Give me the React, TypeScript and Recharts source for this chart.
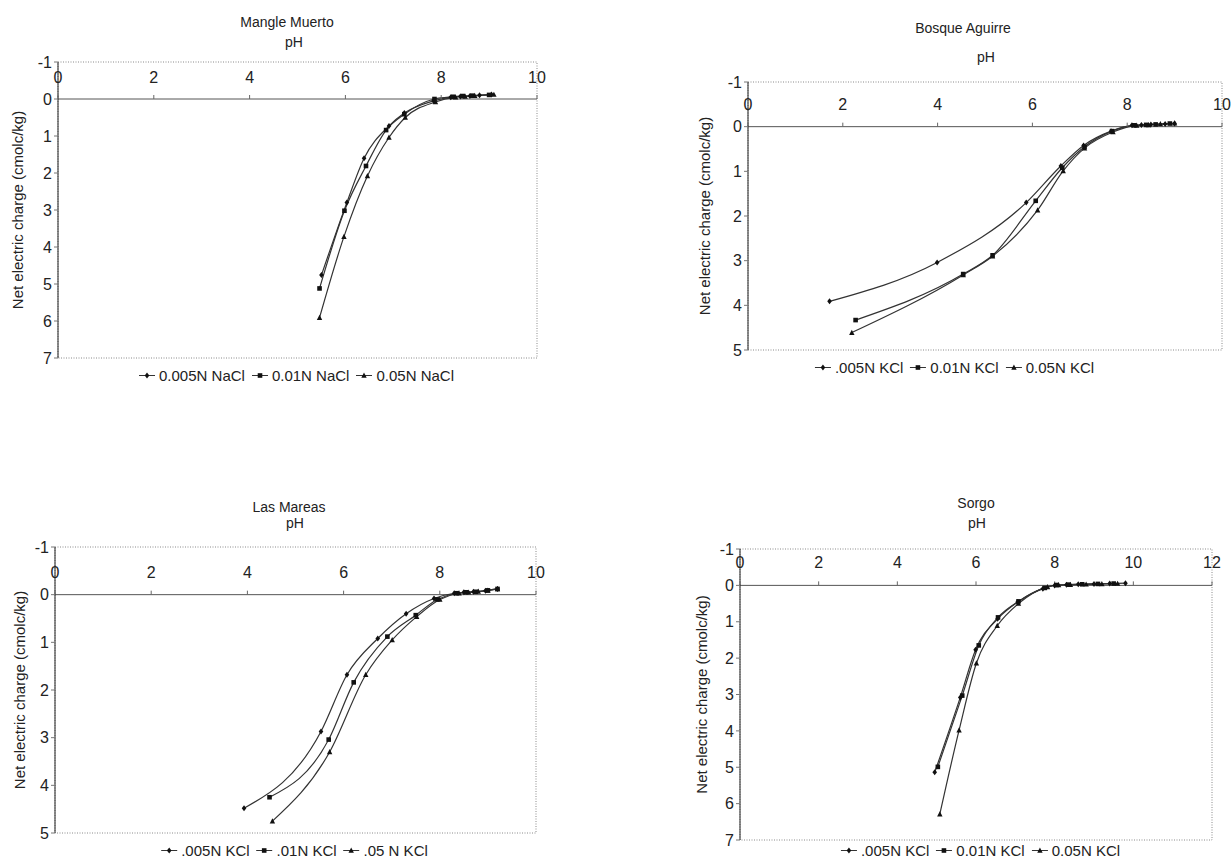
import React from "react";
import {
  LineChart,
  Line,
  XAxis,
  YAxis,
  ReferenceLine,
  ReferenceDot,
  ReferenceArea,
} from "recharts";

// [pH, net charge] pairs
const mangle005 = [[5.5, 4.76], [6.03, 2.8], [6.39, 1.6], [6.91, 0.73], [7.23, 0.38], [7.84, 0.05], [8.2, -0.05], [8.4, -0.07], [8.6, -0.08], [8.8, -0.1], [9.05, -0.12]];
const mangle01 = [[5.46, 5.12], [5.98, 3.02], [6.43, 1.81], [6.85, 0.84], [7.23, 0.41], [7.86, 0.0], [8.25, -0.06], [8.45, -0.08], [8.65, -0.09], [9.0, -0.11]];
const mangle05 = [[5.46, 5.91], [5.97, 3.72], [6.46, 2.08], [6.91, 1.04], [7.25, 0.5], [7.88, 0.08], [8.3, -0.05], [8.5, -0.07], [8.7, -0.09], [9.1, -0.12]];

const bosque005 = [[1.72, 3.91], [3.99, 3.04], [5.87, 1.7], [6.6, 0.88], [7.08, 0.42], [7.66, 0.1], [8.1, -0.03], [8.3, -0.04], [8.5, -0.05], [8.8, -0.06], [9.0, -0.07]];
const bosque01 = [[2.27, 4.33], [4.54, 3.3], [5.16, 2.88], [6.07, 1.66], [6.63, 0.92], [7.1, 0.45], [7.68, 0.1], [8.15, -0.03], [8.4, -0.04], [8.6, -0.05], [8.9, -0.07]];
const bosque05 = [[2.19, 4.61], [4.54, 3.32], [5.16, 2.9], [6.11, 1.87], [6.65, 0.99], [7.1, 0.48], [7.7, 0.12], [8.2, -0.03], [8.45, -0.04], [8.7, -0.06], [9.0, -0.08]];

const mareas005 = [[3.93, 4.48], [5.53, 2.87], [6.07, 1.68], [6.71, 0.92], [7.3, 0.4], [7.88, 0.08], [8.3, -0.03], [8.5, -0.05], [8.7, -0.06], [8.95, -0.08], [9.2, -0.12]];
const mareas01 = [[4.46, 4.25], [5.69, 3.04], [6.21, 1.84], [6.91, 0.88], [7.5, 0.43], [7.95, 0.1], [8.35, -0.03], [8.55, -0.05], [8.75, -0.06], [9.0, -0.09], [9.2, -0.12]];
const mareas05 = [[4.52, 4.75], [5.71, 3.3], [6.46, 1.68], [7.01, 0.95], [7.52, 0.46], [8.0, 0.1], [8.4, -0.03], [8.6, -0.05], [8.8, -0.07], [9.0, -0.09], [9.2, -0.12]];

const sorgo005 = [[4.95, 5.14], [5.6, 3.08], [5.99, 1.77], [6.55, 0.92], [7.06, 0.46], [7.7, 0.09], [8.0, 0.0], [8.3, -0.02], [8.6, -0.03], [9.0, -0.04], [9.4, -0.05], [9.8, -0.06]];
const sorgo01 = [[5.03, 4.99], [5.65, 3.03], [6.07, 1.65], [6.56, 0.88], [7.08, 0.44], [7.75, 0.07], [8.05, -0.01], [8.35, -0.02], [8.7, -0.03], [9.1, -0.04], [9.5, -0.05]];
const sorgo05 = [[5.08, 6.29], [5.57, 3.98], [6.01, 2.14], [6.54, 1.11], [7.08, 0.5], [7.82, 0.04], [8.1, -0.01], [8.4, -0.02], [8.8, -0.03], [9.2, -0.04], [9.6, -0.05]];

const nacl = ["0.005N NaCl", "0.01N NaCl", "0.05N NaCl"];
const kclBosque = [".005N KCl", "0.01N KCl", "0.05N KCl"];
const kclMareas = [".005N KCl", ".01N KCl", ".05 N KCl"];
const kclSorgo = [".005N KCl", "0.01N KCl", "0.05N KCl"];

const ticks10 = [0, 2, 4, 6, 8, 10];
const ticks12 = [0, 2, 4, 6, 8, 10, 12];
const yTicks7 = [-1, 0, 1, 2, 3, 4, 5, 6, 7];
const yTicks5 = [-1, 0, 1, 2, 3, 4, 5];

const FONT = '"Liberation Sans", Arial, sans-serif';
const INK = "#222";
const shapes = ["diamond", "square", "triangle"];

const toPts = (arr: number[][]) => arr.map(([x, y]) => ({ x, y }));

function Marker({ cx, cy, shape }: { cx?: number; cy?: number; shape: string }) {
  if (cx == null || cy == null) return null;
  const s = 2.3;
  if (shape === "diamond")
    return <polygon points={`${cx},${cy - s - 0.7} ${cx + s},${cy} ${cx},${cy + s + 0.7} ${cx - s},${cy}`} fill="#111" />;
  if (shape === "square")
    return <rect x={cx - s} y={cy - s} width={s * 2} height={s * 2} fill="#111" />;
  return <polygon points={`${cx},${cy - s - 0.6} ${cx + s + 0.4},${cy + s} ${cx - s - 0.4},${cy + s}`} fill="#111" />;
}

interface PanelProps {
  left: number;
  top: number;
  width: number;
  height: number;
  margin: { top: number; right: number; bottom: number; left: number };
  yWidth: number;
  xTicks: number[];
  yTicks: number[];
  series: number[][][];
  names: string[];
  title: string;
  titlePos: [number, number];
  phPos: [number, number];
  legendPos: [number, number];
  labelOffset: number;
  tickGap: number;
}

function Panel(p: PanelProps) {
  const xMax = p.xTicks[p.xTicks.length - 1];
  const yMax = p.yTicks[p.yTicks.length - 1];
  const center: React.CSSProperties = {
    position: "absolute",
    transform: "translate(-50%, -50%)",
    whiteSpace: "nowrap",
    fontSize: 14,
    lineHeight: "14px",
    color: INK,
  };
  return (
    <>
      <div style={{ ...center, left: p.titlePos[0], top: p.titlePos[1] }}>{p.title}</div>
      <div style={{ ...center, left: p.phPos[0], top: p.phPos[1] }}>pH</div>
      <div style={{ position: "absolute", left: p.left, top: p.top }}>
        <LineChart width={p.width} height={p.height} margin={p.margin}>
          <XAxis type="number" dataKey="x" domain={[0, xMax]} ticks={p.xTicks} hide allowDataOverflow />
          <YAxis
            type="number"
            domain={[-1, yMax]}
            ticks={p.yTicks}
            interval={0}
            reversed
            allowDataOverflow
            width={p.yWidth}
            tickSize={4}
            tickLine={{ stroke: "#777" }}
            axisLine={{ stroke: INK }}
            tick={{ fontSize: 16, fill: INK, fontFamily: FONT }}
            label={{
              value: "Net electric charge (cmolc/kg)",
              angle: -90,
              position: "insideLeft",
              offset: p.labelOffset,
              style: { textAnchor: "middle", fontSize: 15, fill: INK, fontFamily: FONT },
            }}
          />
          <ReferenceArea x1={0} x2={xMax} y1={-1} y2={yMax} fill="none" stroke="#8a8a8a" strokeDasharray="1 1.5" />
          <ReferenceLine y={0} stroke="#555" />
          {p.xTicks.map((t) => (
            <ReferenceDot
              key={t}
              x={t}
              y={0}
              r={1}
              shape={(d: any) => (
                <g>
                  <line x1={d.cx} x2={d.cx} y1={d.cy} y2={d.cy - 4} stroke="#666" />
                  <text x={d.cx} y={d.cy - p.tickGap} textAnchor="middle" fontSize={16} fill={INK} fontFamily={FONT}>
                    {t}
                  </text>
                </g>
              )}
            />
          ))}
          {p.series.map((s, i) => (
            <Line
              key={p.names[i]}
              name={p.names[i]}
              data={toPts(s)}
              dataKey="y"
              type="monotone"
              stroke="#333"
              strokeWidth={1.2}
              dot={(d: any) => <Marker key={`${i}-${d.index}`} cx={d.cx} cy={d.cy} shape={shapes[i]} />}
              activeDot={false}
              isAnimationActive={false}
            />
          ))}
        </LineChart>
      </div>
      <div
        style={{
          position: "absolute",
          left: p.legendPos[0],
          top: p.legendPos[1],
          transform: "translate(-50%, -50%)",
          display: "flex",
          gap: 6,
          alignItems: "center",
          whiteSpace: "nowrap",
          background: "#fff",
          padding: "0 4px",
          fontSize: 15,
          color: INK,
        }}
      >
        {p.names.map((n, i) => (
          <span key={n} style={{ display: "flex", alignItems: "center", gap: 3 }}>
            <svg width={18} height={10}>
              <line x1={1} x2={17} y1={5} y2={5} stroke="#333" strokeWidth={1.2} />
              <Marker cx={9} cy={5} shape={shapes[i]} />
            </svg>
            {n}
          </span>
        ))}
      </div>
    </>
  );
}

export default function App() {
  return (
    <div
      style={{
        position: "absolute",
        left: 0,
        top: 0,
        width: 1232,
        height: 859,
        background: "#fff",
        fontFamily: FONT,
        overflow: "hidden",
      }}
    >
      <Panel
        left={0}
        top={0}
        width={560}
        height={400}
        margin={{ top: 62, right: 23, bottom: 42, left: 0 }}
        yWidth={58}
        xTicks={ticks10}
        yTicks={yTicks7}
        series={[mangle005, mangle01, mangle05]}
        names={nacl}
        title="Mangle Muerto"
        titlePos={[287, 22]}
        phPos={[294, 42]}
        legendPos={[296, 375]}
        labelOffset={18}
        tickGap={16}
      />
      <Panel
        left={640}
        top={0}
        width={592}
        height={400}
        margin={{ top: 82, right: 10, bottom: 50, left: 50 }}
        yWidth={58}
        xTicks={ticks10}
        yTicks={yTicks5}
        series={[bosque005, bosque01, bosque05]}
        names={kclBosque}
        title="Bosque Aguirre"
        titlePos={[963, 28]}
        phPos={[986, 57]}
        legendPos={[954, 367]}
        labelOffset={15}
        tickGap={17}
      />
      <Panel
        left={0}
        top={430}
        width={560}
        height={429}
        margin={{ top: 117, right: 24, bottom: 26, left: 0 }}
        yWidth={55}
        xTicks={ticks10}
        yTicks={yTicks5}
        series={[mareas005, mareas01, mareas05]}
        names={kclMareas}
        title="Las Mareas"
        titlePos={[289, 507]}
        phPos={[295, 523]}
        legendPos={[294, 850]}
        labelOffset={20}
        tickGap={17}
      />
      <Panel
        left={640}
        top={430}
        width={592}
        height={429}
        margin={{ top: 119, right: 20, bottom: 19, left: 42 }}
        yWidth={58}
        xTicks={ticks12}
        yTicks={yTicks7}
        series={[sorgo005, sorgo01, sorgo05]}
        names={kclSorgo}
        title="Sorgo"
        titlePos={[976, 503]}
        phPos={[977, 523]}
        legendPos={[980, 850]}
        labelOffset={20}
        tickGap={17}
      />
    </div>
  );
}
